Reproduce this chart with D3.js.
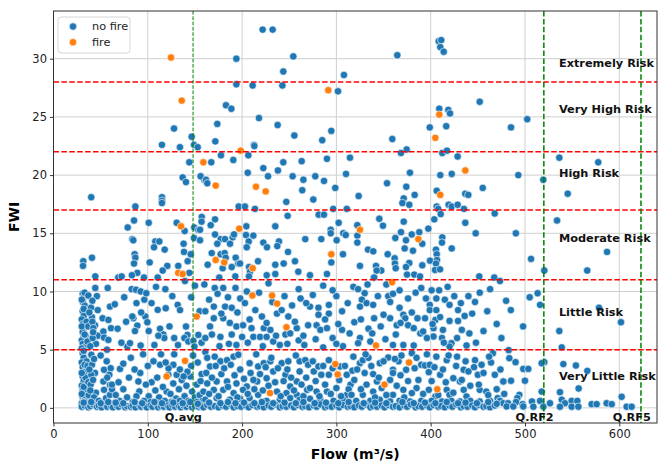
<!DOCTYPE html>
<html>
<head>
<meta charset="utf-8">
<script src="https://cdn.jsdelivr.net/npm/d3@7/dist/d3.min.js"></script>
<style>
  body { margin: 0; background: #fff; font-family: "DejaVu Sans", sans-serif; }
</style>
</head>
<body>
<svg id="chart" width="668" height="468"></svg>
<script>
/// data ///
// [flow (m3/s), FWI]
const noFire = [
  // upper area
  [127.8,24.0],[146.5,23.3],[115,22.6],[149,22.6],
  [221.8,32.5],[232.4,32.5],[193.9,30.0],[254.3,30.2],[243.7,28.9],[308,28.6],[193.9,27.8],[211.2,27.7],
  [242.7,27.7],[301.7,27.2],[182.9,26.0],[188.6,25.7],[217.9,24.9],[173.7,24.4],[237.7,24.3],[255.4,23.4],
  [294.6,23.8],[285,23.0],[171.6,22.9],[212.6,22.6],
  [408.5,31.5],[411.2,31.6],[410.2,31.0],[413.8,30.6],[364.6,30.3],[452,26.3],[409.1,25.7],[418.7,25.6],
  [420.5,25.3],[416.5,24.2],[399,24.1],[359.3,23.1],[485.2,24.1],[502.4,24.8],
  // 11 - 22, left
  [134.1,22.4],[152.9,22.4],[144,21.1],[137,19.8],[140.5,19.4],[160,19.6],[156,19.9],[40,18.1],[115,18.1],
  [115,17.8],[115,17.6],[86.8,17.3],[85.4,16.1],[78.7,15.5],[101,15.9],[130.6,15.9],[139.1,15.2],[149.3,15.5],
  [153.6,15.3],[157.2,16.4],[83.6,14.5],[84.6,14.4],[108,14.3],[112.2,14.3],[106.6,13.8],[117.9,13.6],[138,14.1],
  [149,14.6],[138.4,13.4],[145.5,13.2],[86.1,13.2],[86.8,12.9],[85.4,12.4],[31.6,12.6],[31.3,12.2],[40.8,12.9],
  [102,12.5],[120.7,12.2],[115.8,11.8],[142.3,12.6],[132.3,12.2],[144,11.6],[88.9,11.6],[83.2,11.4],[44.3,11.3],
  [68.7,11.2],[72.3,11.3],[96,11.2],[110.5,11.2],
  // 11 - 22, middle
  [213,22.5],[206.6,21.7],[177.6,21.7],[167.3,21.1],[190.7,21.3],[222.5,20.6],[243.7,21.1],[238,20.4],[263.2,21.2],
  [290,21.4],[206,20.2],[227.5,19.9],[253.6,19.9],[265,19.6],[277.6,19.9],[286.9,19.5],[310.2,20.1],[161.7,19.6],
  [163.1,19.3],[263.8,18.7],[298.8,18.9],[246.9,17.7],[275.5,17.9],[196.4,17.3],[203,17.3],[213.7,17.1],[296.7,17.1],
  [311,17.1],[157,16.0],[155.4,15.3],[171.3,16.2],[166.7,15.7],[248.3,16.5],[281.2,16.6],[286.8,16.6],[302.4,15.9],
  [235.2,15.6],[204.5,15.6],[294,15.3],[307.3,15.0],[309.9,14.85],[294,15.0],[171.3,14.9],[177.3,14.5],[181.9,14.5],
  [190,14.65],[191.4,14.9],[187.2,14.1],[173.7,14.1],[155.4,14.4],[204.1,14.85],[211.9,14.8],[207,14.3],[204.9,13.8],
  [222.5,14.2],[226.4,13.8],[239.1,14.3],[237.3,13.9],[267,14.5],[284,14.5],[300.3,14.4],[248.7,13.4],[307,13.2],
  [167.8,13.3],[177.3,13.2],[181.5,13.3],[182.6,12.9],[193.2,12.9],[196,12.4],[197.8,12.4],[163.5,12.3],[179.4,12.0],
  [189,12.1],[216.9,12.6],[207.3,12.1],[208.4,11.7],[207.3,11.3],[235.2,12.3],[244.1,12.4],[256.1,12.6],[294.6,12.5],
  [226.1,11.4],[235.2,11.5],[259.6,11.7],[272,11.4],[290,11.5],[192.8,11.3],[175.8,11.2],
  // 11 - 22, right
  [374.5,22.2],[368.5,21.9],[412.3,21.9],[417.3,22.1],[428.6,21.6],[314.4,21.5],[378,20.2],[410.2,20.0],[422.3,20.1],
  [353.7,19.3],[374.1,19.0],[455.2,18.9],[406.4,18.65],[383,18.3],[371.4,18.0],[370,17.6],[377.3,17.45],[436.7,18.4],
  [439.9,18.3],[323.6,18.2],[419,17.45],[422.3,17.3],[428.6,17.45],[406.4,17.3],[408,17.1],[410.6,16.65],[435.3,17.1],
  [467.9,16.7],[345.5,16.25],[349.4,15.65],[371.4,16.0],[403.8,16.2],[436.7,15.9],[322.2,15.7],[368.5,15.1],
  [379.9,14.9],[387.9,15.1],[397.5,15.4],[447.7,15.0],[322.2,14.8],[322.2,14.2],[362.5,14.6],[373.8,14.4],[391.1,14.1],
  [412.3,14.65],[412,14.2],[372.4,13.7],[381.2,13.5],[333.5,13.6],[339.1,13.45],[354.4,13.2],[405.6,13.6],[406.4,13.2],
  [422.3,13.7],[361.8,12.85],[362.1,12.4],[362.9,12.0],[377.3,12.45],[373.8,12.1],[391.1,12.25],[399.3,12.65],
  [406.7,12.7],[405.6,12.4],[404.6,11.85],[409.9,11.9],[325,12.2],[342,12.2],[347.6,11.8],[342.7,11.8],[339.9,11.2],
  [374.9,11.45],[382.6,11.45],[388.7,11.3],[451.5,11.3],[467.4,11.2],
  [536.4,21.5],[577.7,21.1],[492.9,20.0],[519.4,19.6],[545.3,18.4],[534,16.1],[490.3,15.0],[587,13.4],[506.4,12.8],
  [520.5,11.8],[566,11.8],
  // 0 - 11, low flows
  [31,9.8],[32,9.5],[31,9.1],[33,8.8],[31,8.3],[32,7.9],[30,7.6],[31,7.2],[33,6.9],[31,6.5],[32,6.1],[30,5.8],
  [31,5.5],[33,5.2],[31,4.7],[32,4.3],[30,3.9],[31,3.5],[33,3.1],[31,2.7],[32,2.3],[30,1.9],[31,1.5],[33,1.2],
  [31,0.9],[32,0.6],[30,0.4],[35,0.3],[34,0.8],[35,1.6],[34,2.6],[35,4.0],[34,6.2],[35,7.4],
  [30,9.3],[33,9.9],[32,8.5],[30,7.0],[33,6.3],[30,5.1],[32,4.9],[33,3.7],[30,3.0],[32,1.8],[30,1.2],[33,0.5],
  [36,5.7],[37,2.2],[36,3.6],[37,7.0],[44,7.1],[45,5.5],[44,3.0],[45,1.3],[46,9.6],[47,6.2],
  [36.9,9.65],[41.2,9.2],[39.8,8.6],[40.8,7.8],[41.2,7.4],[42.2,6.85],[41.5,6.0],[40.1,4.56],[40.8,3.7],[40.1,2.84],
  [39.4,2.0],[37.3,1.1],[40.5,0.55],[38,8.2],[42,6.5],[39,5.3],[43,4.2],[38,3.3],[42,2.4],[39,1.5],[43,0.9],
  [46.9,8.4],[52.1,7.7],[52.9,6.56],[53.6,6.04],[56.7,5.0],[56.4,4.0],[53.6,3.27],[52.9,2.27],[53.6,1.55],
  [55.7,0.84],[59.9,1.12],[59.9,8.7],[58.2,7.56],[61,6.85],[58.2,5.84],[60.6,3.41],[59.2,2.84],[59.9,1.98],
  [50,4.5],[57,2.6],[62,1.6],[48,0.6],[64,0.4],
  [44.3,10.3],[57.5,10.3],[82.9,10.2],[87.5,10.15],[92.5,10.0],[96.3,9.3],[98.4,9.85],
  [70.5,3.35],[78.3,5.27],[81.1,5.56],[84.7,7.7],[88.9,7.07],[92.4,5.36],[91,1.41],[96,0.55],[97.4,7.85],
  [99.5,7.36],[86.4,6.6],[83.6,7.85],[90,2.27],
  [108.7,10.4],[118.6,10.2],[110.5,8.42],[119,8.56],[113,6.8],[116.5,6.3],[117.5,6.0],[111.2,6.2],[113,3.7],
  [121.8,2.84],[120,1.4],[139.4,10.9],
  [131.7,8.85],[134.2,8.4],[140.5,6.99],[142,6.27],[138.8,6.0],[143,5.7],[148.3,5.76],[149.4,5.27],[153.6,6.27],
  [130.6,2.84],[127.1,3.7],
  [104,2.2],[108,1.5],[112,0.9],[116,1.8],[124,1.2],[127,2.1],[130,0.8],[133,1.6],[136,2.4],[139,1.0],[141,1.9],
  [143,0.6],[145,2.7],[147,1.4],[150,0.9],[152,2.0],[155,1.1],[157,2.9],[158,0.6],[134,3.3],[146,3.6],[125,0.5],
  [118,0.6],[101,1.0],[96,0.6],[88,1.0],[84,0.5],[78,0.9],[74,1.6],[70,0.6],[66,1.1],[62,2.0],[98,2.0],[92,3.0],
  [80,2.6],[106,4.0],[128,4.6],[142,3.1],[138,2.7],[153,3.9],[122,3.4],
  [65,8.9],[68,6.8],[72,5.6],[75,9.5],[77,7.4],[88,9.0],[93,8.2],[101,6.6],[104,9.0],[107,5.4],[123,7.0],[126,9.6],
  [128,6.0],[146,9.5],[150,10.5],[155,8.3],[157,5.6],[69,2.2],[74,3.8],[82,4.3],[86,3.3],[95,4.6],[100,3.6],
  [110,2.6],[114,4.6],[119,3.9],[132,5.4],[148,4.5],[156,2.3],[103,0.5],[110,0.4],[134,0.6],[152,0.5],
  // 0 - 11, middle flows
  [171,10.3],[180,10.3],[193,10.3],[198,9.4],[182,8.7],[189,8.6],[170,8.7],[161,8.3],[170,7.7],[180,7.7],[187,7.3],
  [194,7.0],[201,7.1],[210,6.85],[221,7.85],[223,6.85],[230,6.7],[237,8.1],[242,8.4],[249,7.85],[246,6.3],[251,6.4],
  [258,6.85],[260,5.8],[270,7.1],[272,8.7],[281,8.6],[281,8.0],[292,8.1],[292,8.85],[306,8.3],[306,6.7],[307,5.3],
  [279,7.1],[283,6.7],[290,6.85],[161,6.0],[168,6.3],[177,6.1],[189,6.3],[194,5.4],[200,6.1],[212,6.1],[219,6.1],
  [226,6.1],[233,5.7],[161,4.8],[163,4.3],[166,3.56],[171,4.4],[177,4.0],[184,4.1],[191,4.4],[196,4.56],[208,3.84],
  [217,3.56],[223,3.84],[230,4.0],[233,3.13],[242,3.84],[249,4.0],[261,4.0],[267,4.1],[270,3.7],[276,3.13],[281,3.56],
  [284,2.84],[292,2.84],[292,4.1],[304,3.56],[311,2.84],[315,2.0],[261,3.13],[246,2.84],[258,2.27],[251,1.84],
  [226,2.55],[216,2.27],[205,1.84],[212,2.4],[194,2.1],[184,2.27],[173,2.27],[163,2.1],[159,1.4],[170,1.55],[180,1.55],
  [191,1.27],[201,1.55],[217,1.12],[237,1.4],[247,1.27],[258,1.12],[269,1.55],[279,1.4],[290,1.4],[300,1.7],[311,1.12],
  [161,0.7],[173,0.84],[187,0.7],[198,0.78],[208,0.84],[226,0.6],[240,0.7],[251,0.84],[261,0.7],[272,0.78],[283,0.7],
  [297,0.6],[307,0.7],
  [162,3.0],[165,1.2],[168,2.6],[172,3.6],[175,1.0],[178,2.9],[181,3.4],[185,1.8],[188,3.7],[192,2.8],[195,0.9],
  [198,3.3],[202,2.5],[206,1.2],[209,3.0],[213,1.6],[215,4.6],[219,2.9],[222,1.5],[225,3.5],[228,1.9],[231,4.3],
  [235,2.2],[238,3.4],[241,1.0],[244,2.3],[248,3.3],[252,2.6],[255,1.5],[257,4.5],[263,2.0],[265,1.0],[268,2.6],
  [272,1.7],[275,4.0],[278,2.3],[282,1.0],[286,3.6],[288,2.0],[294,1.2],[296,3.4],[303,2.4],[305,1.0],[309,3.6],
  [313,1.6],[317,3.2],
  [165,9.3],[174,9.8],[185,9.5],[195,8.2],[203,9.0],[208,7.6],[214,8.4],[218,9.9],[226,7.3],[232,9.1],[236,6.2],
  [240,5.4],[245,9.6],[253,8.8],[256,7.4],[262,9.4],[265,6.2],[275,9.7],[278,5.9],[286,10.5],[288,7.6],[296,6.0],
  [300,9.6],[302,7.2],[312,9.0],[314,6.4],[318,10.4],[176,5.3],[186,5.5],[206,5.6],[222,5.3],[248,5.5],[266,5.4],
  [286,5.2],[300,5.5],[160,10.6],[166,7.0],[178,8.1],[205,10.0],[228,10.7],[260,10.2],[268,9.0],[296,10.1],
  // 0 - 11, high flows
  [340,11.2],[323,10.2],[330,9.85],[327,9.3],[332,9.0],[339,8.85],[325,8.7],[353,10.6],[355,9.6],[357,9.1],[367,10.1],
  [376,9.4],[390,10.3],[401,10.1],[409,10.1],[406,9.4],[415,9.3],[420,8.85],[429,8.4],[440,9.6],[447,9.1],[399,8.85],
  [399,8.4],[406,8.4],[367,8.6],[371,8.0],[373,7.7],[357,7.7],[340,7.7],[319,7.36],[347,7.0],[364,7.1],[376,7.1],
  [394,7.7],[405,7.56],[420,7.47],[429,7.47],[334,6.8],[382,6.85],[389,6.4],[392,6.56],[403,6.85],[413,6.7],[433,6.7],
  [403,6.13],[412,6.0],[428,6.0],[325,6.0],[323,5.56],[336,5.7],[360,5.4],[371,5.4],[382,5.36],[422,5.56],[420,5.27],
  [438,5.36],[318,4.4],[325,3.84],[328,4.1],[334,4.3],[346,3.84],[355,4.33],[366,4.0],[369,4.5],[380,4.7],[385,4.3],
  [390,3.7],[394,3.64],[399,3.7],[406,4.4],[417,4.1],[428,4.4],[435,3.27],[447,4.1],[454,3.7],[466,4.7],[330,3.0],
  [339,2.9],[360,3.27],[360,3.0],[374,3.27],[398,3.07],[410,2.84],[424,2.55],[431,2.27],[440,3.13],[450,2.84],
  [468,2.84],[477,2.27],[319,2.4],[332,2.0],[343,2.27],[348,1.7],[339,1.4],[371,1.55],[385,1.7],[398,1.55],[417,1.55],
  [435,1.55],[452,1.55],[459,1.4],[316,1.12],[328,1.12],[360,1.12],[380,1.27],[405,0.98],[420,1.12],[438,0.98],
  [471,0.84],[321,0.6],[336,0.6],[346,0.7],[357,0.55],[367,0.6],[378,0.55],[390,0.6],[401,0.6],[412,0.55],[422,0.6],
  [431,0.55],[442,0.6],[452,0.55],[463,0.6],[473,0.55],
  [322,3.3],[326,1.6],[331,4.6],[337,3.6],[341,0.9],[345,2.6],[350,4.0],[353,1.1],[357,2.4],[362,4.2],[364,1.9],
  [368,2.8],[372,0.9],[376,2.3],[383,3.4],[387,2.4],[392,1.2],[396,4.6],[401,2.3],[404,3.5],[408,1.1],[413,3.3],
  [416,2.2],[419,4.5],[424,1.3],[427,3.6],[433,2.4],[437,4.0],[442,1.9],[446,3.5],[451,2.0],[456,3.0],[461,1.1],
  [464,3.9],[470,1.6],[474,3.3],[478,1.2],[462,4.4],
  [326,7.6],[333,10.6],[338,6.4],[344,9.6],[350,8.0],[352,5.9],[360,9.8],[363,6.3],[368,7.3],[380,8.2],[384,9.9],
  [386,7.7],[395,9.4],[396,6.0],[402,7.2],[410,7.8],[414,5.6],[418,10.4],[425,9.6],[432,9.0],[436,7.9],[441,6.4],
  [444,8.1],[448,5.6],[452,9.9],[456,6.6],[460,8.3],[463,10.2],[470,7.2],[475,6.0],[480,9.2],[485,8.4],[498,7.0],
  [505,9.5],
  // right of 470
  [473.5,10.9],[513.4,9.85],[516,8.85],[578.5,8.6],[601.8,7.36],[536.4,6.6],[539,5.2],[482.7,4.96],[483.4,4.27],
  [490,3.93],[520.5,3.93],[517.7,3.84],[540.7,3.76],[554,3.64],[566.1,3.18],[498.2,3.35],[503.5,3.35],[477,2.27],
  [485.2,2.33],[500,2.33],[556.9,1.67],[517.7,1.4],[537.1,1.35],[494,1.12],[602.5,0.95],[491.9,0.84],[473.5,0.6],
  [477,0.4],[482,0.4],[490.5,0.5],[497.5,0.32],[507.4,0.55],[516,0.6],[526.5,0.4],[539,0.7],[542.4,0.4],[549.5,0.6],
  [555.5,0.6],[480.5,0.12],[487.6,0.12],[498.2,0.12],[508.9,0.1],[519.5,0.1],[537.1,0.1],[549.5,0.1],[556.6,0.1],
  [570.7,0.32],[576,0.32],[586.6,0.4],[592,0.32],[607.8,0.1],[613.1,0.1],
  // band near zero
  [30,0.1],[33,0.2],[37,0.05],[39,0.15],[42,0.3],[46,0.1],[48,0.2],[51,0.05],[55,0.25],[57,0.1],[61,0.15],[63,0.05],
  [67,0.2],[69,0.1],[72,0.3],[76,0.05],[78,0.15],[82,0.1],[84,0.2],[87,0.05],[91,0.25],[93,0.1],[97,0.15],[99,0.05],
  [103,0.2],[105,0.1],[109,0.3],[111,0.05],[114,0.15],[117,0.1],[121,0.2],[123,0.05],[126,0.25],[129,0.1],[133,0.15],
  [135,0.05],[138,0.2],[141,0.1],[144,0.3],[147,0.05],[150,0.15],[154,0.1],[156,0.2],[159,0.05],[163,0.25],[167,0.1],
  [171,0.15],[175,0.05],[179,0.2],[183,0.1],[188,0.3],[191,0.05],[195,0.15],[199,0.1],[204,0.2],[207,0.05],[211,0.25],
  [216,0.1],[219,0.15],[223,0.05],[228,0.2],[231,0.1],[235,0.3],[240,0.05],[243,0.15],[247,0.1],[252,0.2],[255,0.05],
  [259,0.25],[264,0.1],[267,0.15],[271,0.05],[276,0.2],[279,0.1],[283,0.3],[288,0.05],[291,0.15],[295,0.1],[300,0.2],
  [303,0.05],[307,0.25],[312,0.1],[315,0.15],[319,0.05],[324,0.2],[327,0.1],[331,0.3],[336,0.05],[339,0.15],[343,0.1],
  [348,0.2],[351,0.05],[355,0.25],[360,0.1],[363,0.15],[367,0.05],[372,0.2],[375,0.1],[379,0.3],[384,0.05],[387,0.15],
  [391,0.1],[396,0.2],[399,0.05],[403,0.25],[408,0.1],[411,0.15],[415,0.05],[420,0.2],[423,0.1],[427,0.3],[432,0.05],
  [435,0.15],[439,0.1],[444,0.2],[447,0.05],[451,0.25],[456,0.1],[459,0.15],[463,0.05],[468,0.2],
  [32,0.45],[40,0.5],[50,0.4],[58,0.5],[66,0.45],[74,0.4],[86,0.5],[94,0.4],[107,0.5],[115,0.4],[127,0.45],
  [137,0.4],[145,0.5],[153,0.35],[165,0.45],[177,0.4],[185,0.5],[193,0.4],[202,0.45],[213,0.4],[221,0.5],[233,0.4],
  [245,0.45],[257,0.4],[265,0.5],[277,0.4],[289,0.45],[302,0.4],[313,0.5],[329,0.4],[341,0.45],[353,0.4],[370,0.5],
  [382,0.4],[394,0.45],[405,0.4],[417,0.5],[429,0.4],[437,0.45],[449,0.4],[461,0.5],[470,0.35]
];

const fire = [
  [124.6,30.1],[136,26.4],[291.4,27.3],[409.1,25.2],[404.9,23.2],[158.9,21.1],[198.5,22.1],[172,19.1],[214.7,19.0],
  [225,18.6],[135.2,15.6],[197,15.4],[132.3,11.6],[137,11.5],[172,12.7],[181.1,12.5],[211.2,12.0],[294.6,13.2],
  [436.7,20.4],[410.2,18.3],[325,15.3],[386.9,14.5],[151.8,7.85],[139.5,4.04],[210.9,9.65],[231.8,9.65],[237.1,8.96],
  [247,6.93],[298.9,3.76],[301.4,2.87],[229.6,1.27],[359,10.8],[342,5.36],[377,3.9],[351,2.0],[407,1.6],[120,2.7]
];

// FWI class limits and labels
const riskLimits = [5, 11, 17, 22, 28];
const riskLabels = ["Very Little Risk", "Little Risk", "Moderate Risk", "High Risk", "Very High Risk", "Extremely Risk"];
const riskLabelFWI = [2.7, 8.2, 14.6, 20.2, 25.7, 29.6];

// reference flows
const flowNames = ["Q.avg", "Q.RF2", "Q.RF5"];
const flowValues = [148, 520, 623];

const xTicks = [0, 100, 200, 300, 400, 500, 600];
const yTicks = [0, 5, 10, 15, 20, 25, 30];

/// constants ///
const plotLeft = 53.5, plotRight = 657, plotTop = 11, plotBottom = 423;
const colourNoFire = "#1f77b4";
const colourFire = "#ff7f0e";

const svg = d3.select("#chart");

const x = d3.scaleLinear().domain([0, 640]).range([plotLeft, plotRight]);
const y = d3.scaleLinear().domain([-1.3, 34.1]).range([plotBottom, plotTop]);

// grid
const grid = svg.append("g");
grid.selectAll(".gx").data(xTicks).join("line")
  .attr("x1", d => x(d)).attr("x2", d => x(d))
  .attr("y1", plotTop).attr("y2", plotBottom)
  .attr("stroke", "#cfcfcf").attr("stroke-width", 1);
grid.selectAll(".gy").data(yTicks).join("line")
  .attr("y1", d => y(d)).attr("y2", d => y(d))
  .attr("x1", plotLeft).attr("x2", plotRight)
  .attr("stroke", "#cfcfcf").attr("stroke-width", 1);

// points
const pts = noFire.map(d => ({flow: d[0], fwi: d[1], fire: false}))
  .concat(fire.map(d => ({flow: d[0], fwi: d[1], fire: true})));

svg.append("g").selectAll("circle").data(pts).join("circle")
  .attr("cx", d => x(d.flow))
  .attr("cy", d => y(d.fwi))
  .attr("r", 3.7)
  .attr("fill", d => d.fire ? colourFire : colourNoFire)
  .attr("stroke", "white")
  .attr("stroke-width", 0.6);

// risk lines
svg.append("g").selectAll("line").data(riskLimits).join("line")
  .attr("x1", plotLeft).attr("x2", plotRight)
  .attr("y1", d => y(d)).attr("y2", d => y(d))
  .attr("stroke", "red").attr("stroke-width", 1.5)
  .attr("stroke-dasharray", "5.5,2.4");

// flow lines
svg.append("g").selectAll("line").data(flowValues).join("line")
  .attr("x1", d => x(d)).attr("x2", d => x(d))
  .attr("y1", plotTop).attr("y2", plotBottom)
  .attr("stroke", "green")
  .attr("stroke-width", (d, i) => i === 0 ? 1 : 1.5)
  .attr("stroke-dasharray", (d, i) => i === 0 ? "3.7,1.6" : "5.5,2.4");

// labels
svg.append("g").selectAll("text").data(riskLabels).join("text")
  .attr("x", x(536))
  .attr("y", (d, i) => y(riskLabelFWI[i]))
  .attr("dy", "0.35em")
  .attr("font-size", "11.3px")
  .attr("font-weight", "bold")
  .attr("fill", "#111")
  .text(d => d);

svg.append("g").selectAll("text").data(flowNames).join("text")
  .attr("x", (d, i) => x(flowValues[i] - 30))
  .attr("y", y(-1.1))
  .attr("font-size", "11.3px")
  .attr("font-weight", "bold")
  .attr("fill", "#111")
  .text(d => d);

// axes
const xAxis = svg.append("g")
  .attr("transform", `translate(0,${plotBottom})`)
  .call(d3.axisBottom(x).tickValues(xTicks).tickSize(3.5).tickPadding(3).tickSizeOuter(0));
const yAxis = svg.append("g")
  .attr("transform", `translate(${plotLeft},0)`)
  .call(d3.axisLeft(y).tickValues(yTicks).tickSize(3.5).tickPadding(3).tickSizeOuter(0));
[xAxis, yAxis].forEach(a => {
  a.selectAll("text").attr("font-size", "11.5px").attr("font-family", "DejaVu Sans").attr("fill", "#222");
  a.select(".domain").remove();
  a.selectAll("line").attr("stroke", "#333");
});

// frame
svg.append("rect")
  .attr("x", plotLeft).attr("y", plotTop)
  .attr("width", plotRight - plotLeft).attr("height", plotBottom - plotTop)
  .attr("fill", "none").attr("stroke", "#333").attr("stroke-width", 1);

// axis titles
svg.append("text")
  .attr("x", (plotLeft + plotRight) / 2).attr("y", 459)
  .attr("text-anchor", "middle")
  .attr("font-size", "14px").attr("font-weight", "bold")
  .text("Flow (m³/s)");
svg.append("text")
  .attr("transform", `translate(19,${(plotTop + plotBottom) / 2}) rotate(-90)`)
  .attr("text-anchor", "middle")
  .attr("font-size", "14px").attr("font-weight", "bold")
  .text("FWI");

// legend
const legend = svg.append("g");
legend.append("rect")
  .attr("x", 58).attr("y", 17).attr("width", 72).attr("height", 36).attr("rx", 3)
  .attr("fill", "white").attr("fill-opacity", 0.8)
  .attr("stroke", "#d6d6d6");
const legendItems = [["no fire", colourNoFire], ["fire", colourFire]];
legend.selectAll("circle").data(legendItems).join("circle")
  .attr("cx", 73).attr("cy", (d, i) => 26.5 + i * 15.7)
  .attr("r", 3.7).attr("fill", d => d[1]).attr("stroke", "white").attr("stroke-width", 0.6);
legend.selectAll("text").data(legendItems).join("text")
  .attr("x", 92).attr("y", (d, i) => 26.5 + i * 15.7).attr("dy", "0.35em")
  .attr("font-size", "11.3px").attr("fill", "#222")
  .text(d => d[0]);
</script>
</body>
</html>
